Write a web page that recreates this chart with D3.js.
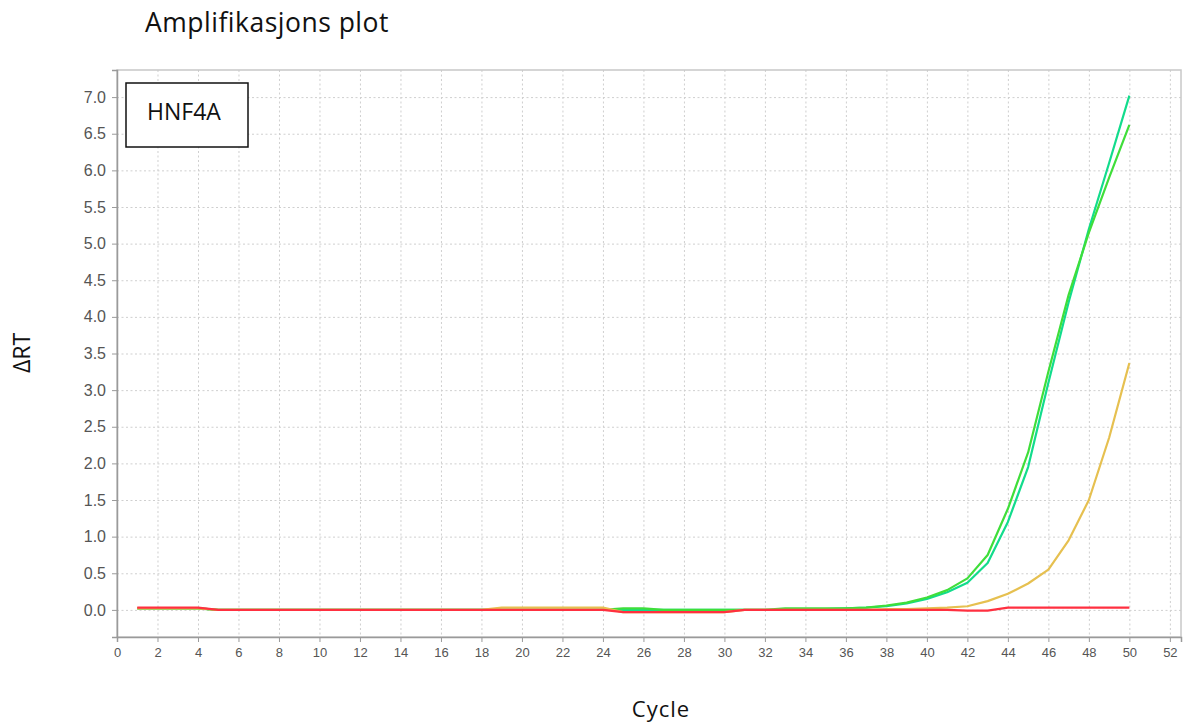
<!DOCTYPE html>
<html>
<head>
<meta charset="utf-8">
<title>Amplifikasjons plot</title>
<script src="https://cdn.jsdelivr.net/npm/d3@7"></script>
<style>
  html, body { margin: 0; padding: 0; background: #fff; }
  svg { display: block; }
</style>
</head>
<body>
<div id="chart"></div>
<script>
// --- Data ---
const cycles = [1,2,3,4,5,6,7,8,9,10,11,12,13,14,15,16,17,18,19,20,21,22,23,24,25,
                26,27,28,29,30,31,32,33,34,35,36,37,38,39,40,41,42,43,44,45,46,47,48,49,50];

const wellTeal = [0.02,0.02,0.02,0.02,0,0,0,0,0,0,0,0,0,0,0,0,0,0,0,0,0,0,0,0,0,
                  0,0,0,0,0,0,0,0,0.01,0.01,0.02,0.03,0.05,0.09,0.15,0.24,0.37,0.64,1.2,1.95,3.1,4.2,5.2,6.1,7.02];
const wellGreen = [0.02,0.02,0.02,0.02,0,0,0,0,0,0,0,0,0,0,0,0,0,0,0,0,0,0,0,0,0.02,
                   0.02,0,0,0,0,0,0,0.02,0.02,0.02,0.02,0.03,0.06,0.1,0.17,0.27,0.43,0.75,1.38,2.15,3.25,4.3,5.15,5.9,6.62];
const wellYellow = [0.02,0.02,0.02,0.02,0,0,0,0,0,0,0,0,0,0,0,0,0,0,0.03,0.03,0.03,0.03,0.03,0.03,-0.03,
                    -0.03,-0.03,-0.03,-0.03,-0.03,0,0,0,0,0,0,0,0.01,0.01,0.02,0.03,0.05,0.12,0.22,0.36,0.55,0.95,1.5,2.35,3.37];
const wellRed = [0.03,0.03,0.03,0.03,0,0,0,0,0,0,0,0,0,0,0,0,0,0,0,0,0,0,0,0,-0.03,
                 -0.03,-0.03,-0.03,-0.03,-0.03,0,0,0,0,0,0,0,0,0,0,0,-0.01,-0.01,0.03,0.03,0.03,0.03,0.03,0.03,0.03];

const xTicks = d3.range(0, 53, 2);
const yTicks = d3.range(0, 7.01, 0.5);

const seriesList = [
  { name: "teal",   values: wellTeal,   color: "#12dc8c" },
  { name: "green",  values: wellGreen,  color: "#3fde3a" },
  { name: "yellow", values: wellYellow, color: "#e6c050" },
  { name: "red",    values: wellRed,    color: "#ff3040" }
];

document.addEventListener("DOMContentLoaded", function() {

  const width = 1186, height = 728;
  const plot = { left: 117, right: 1181, top: 70, bottom: 637 };

  const svg = d3.select("#chart").append("svg")
      .attr("width", width)
      .attr("height", height);

  const x = d3.scaleLinear().domain([0, 52.55]).range([plot.left, plot.right]);
  const y = d3.scaleLinear().domain([-0.37, 7.37]).range([plot.bottom, plot.top]);

  // --- Grid (dotted) ---
  const grid = svg.append("g")
      .attr("stroke", "#cfcfcf")
      .attr("stroke-width", 1)
      .attr("stroke-dasharray", "2,2.5");

  grid.selectAll("line.v")
      .data(xTicks.filter(d => d > 0))
      .join("line")
      .attr("class", "v")
      .attr("x1", d => x(d) + 0.5).attr("x2", d => x(d) + 0.5)
      .attr("y1", plot.top).attr("y2", plot.bottom);

  grid.selectAll("line.h")
      .data(yTicks)
      .join("line")
      .attr("class", "h")
      .attr("x1", plot.left).attr("x2", plot.right)
      .attr("y1", d => y(d) + 0.5).attr("y2", d => y(d) + 0.5);

  // frame
  svg.append("rect")
      .attr("x", plot.left).attr("y", plot.top)
      .attr("width", plot.right - plot.left)
      .attr("height", plot.bottom - plot.top)
      .attr("fill", "none")
      .attr("stroke", "#c8c8c8")
      .attr("stroke-width", 1.5);

  // --- Axes ---
  const xAxis = svg.append("g")
      .attr("transform", `translate(0,${plot.bottom})`)
      .call(d3.axisBottom(x).tickValues(xTicks).tickSize(5).tickPadding(6).tickFormat(d3.format("d")));
  xAxis.select(".domain").attr("stroke", "#9a9a9a").attr("stroke-width", 1.5);
  xAxis.selectAll(".tick line").attr("stroke", "#9a9a9a");
  xAxis.selectAll("text")
      .attr("fill", "#555")
      .style("font-family", "'Liberation Sans', Arial, sans-serif")
      .style("font-size", "13px");

  const yAxis = svg.append("g")
      .attr("transform", `translate(${plot.left},0)`)
      .call(d3.axisLeft(y).tickValues(yTicks).tickSize(5).tickPadding(6).tickFormat(d3.format(".1f")));
  yAxis.select(".domain").attr("stroke", "#9a9a9a").attr("stroke-width", 1.5);
  yAxis.selectAll(".tick line").attr("stroke", "#9a9a9a");
  yAxis.selectAll("text")
      .attr("fill", "#555")
      .style("font-family", "'Liberation Sans', Arial, sans-serif")
      .style("font-size", "16px");

  // --- Curves ---
  const line = d3.line()
      .x((d, i) => x(cycles[i]))
      .y(d => y(d));

  svg.append("g")
      .selectAll("path")
      .data(seriesList)
      .join("path")
      .attr("d", d => line(d.values))
      .attr("fill", "none")
      .attr("stroke", d => d.color)
      .attr("stroke-width", 2.2)
      .attr("stroke-linejoin", "round");

  // --- Legend box ---
  svg.append("rect")
      .attr("x", 126).attr("y", 83)
      .attr("width", 122).attr("height", 64)
      .attr("fill", "#fff")
      .attr("stroke", "#111")
      .attr("stroke-width", 1.5);
  svg.append("text")
      .attr("x", 147).attr("y", 120)
      .attr("fill", "#111")
      .style("font-family", "'Open Sans', sans-serif")
      .style("font-size", "23px")
      .text("HNF4A");

  // --- Titles ---
  svg.append("text")
      .attr("x", 145).attr("y", 32)
      .attr("fill", "#111")
      .style("font-family", "'Open Sans', sans-serif")
      .style("font-size", "26.5px")
      .style("letter-spacing", "0.5px")
      .text("Amplifikasjons plot");

  svg.append("text")
      .attr("x", 661).attr("y", 717)
      .attr("text-anchor", "middle")
      .attr("fill", "#111")
      .style("font-family", "'Open Sans', sans-serif")
      .style("font-size", "22px")
      .style("letter-spacing", "1px")
      .text("Cycle");

  svg.append("text")
      .attr("transform", "translate(30,353) rotate(-90)")
      .attr("text-anchor", "middle")
      .attr("fill", "#111")
      .style("font-family", "'Open Sans', sans-serif")
      .style("font-size", "23px")
      .text("ΔRT");

}); // End DOMContentLoaded listener
</script>
</body>
</html>
